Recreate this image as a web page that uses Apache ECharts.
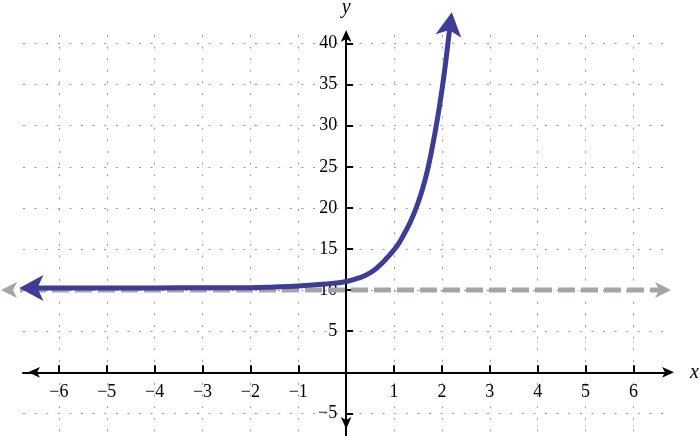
<!DOCTYPE html>
<html>
<head>
<meta charset="utf-8">
<script src="https://cdn.jsdelivr.net/npm/echarts@6/dist/echarts.min.js"></script>
<style>
html,body{margin:0;padding:0;background:#fff;}
#chart{width:700px;height:436px;}
</style>
</head>
<body>
<div id="chart"></div>
<script>
// ---- data ----
var curveX = [-6.72, -5, -4, -3, -2, -1.5, -1, -0.5, -0.25, 0, 0.25, 0.5, 0.7, 0.85, 1.0, 1.1, 1.2, 1.35, 1.5, 1.6, 1.7, 1.8, 1.9, 2.0, 2.07, 2.13, 2.192];
var curveY = [10.25, 10.25, 10.27, 10.28, 10.3, 10.38, 10.5, 10.7, 10.85, 11.05, 11.45, 12.1, 13.0, 13.9, 14.9, 15.7, 16.7, 18.4, 20.6, 22.4, 24.6, 27.4, 30.6, 34.3, 37.3, 40.2, 43.2];
var asymptoteX = [-7.105, 6.683];
var asymptoteY = [10, 10];
var xTickValues = [-6, -5, -4, -3, -2, -1, 0, 1, 2, 3, 4, 5, 6];
var xLabelValues = [-6, -5, -4, -3, -2, -1, 1, 2, 3, 4, 5, 6];
var xLabelTexts = ['\u22126', '\u22125', '\u22124', '\u22123', '\u22122', '\u22121', '1', '2', '3', '4', '5', '6'];
var yTickValues = [-5, 0, 5, 10, 15, 20, 25, 30, 35, 40];
var yLabelValues = [-5, 5, 10, 15, 20, 25, 30, 35, 40];
var yLabelTexts = ['\u22125', '5', '10', '15', '20', '25', '30', '35', '40'];

var X_MIN = -6.75, X_MAX = 6.765, Y_MIN = -7.75, Y_MAX = 41.04;

var chart = echarts.init(document.getElementById('chart'), null, {renderer: 'canvas'});

function labelFrom(values, texts) {
  return function (v) {
    for (var i = 0; i < values.length; i++) {
      if (Math.abs(values[i] - v) < 1e-9) return '{t|' + texts[i] + '}';
    }
    return '';
  };
}

function pointsWithEndArrows(xs, ys, startRot, endRot, startOff, endOff) {
  var out = [];
  for (var i = 0; i < xs.length; i++) {
    var item = {value: [xs[i], ys[i]]};
    if (i === 0) { item.symbol = 'arrow'; item.symbolRotate = startRot; item.symbolOffset = startOff; }
    else if (i === xs.length - 1) { item.symbol = 'arrow'; item.symbolRotate = endRot; item.symbolOffset = endOff; }
    else { item.symbol = 'none'; }
    out.push(item);
  }
  return out;
}

var gridLine = {show: true, lineStyle: {color: '#999', width: 1, type: [2, 9.6]}};
var fontFam = '"Liberation Serif", "Times New Roman", Times, serif';
var labelRich = {t: {fontFamily: fontFam, fontSize: 18, color: '#000'}};

var option = {
  animation: false,
  backgroundColor: '#fff',
  textStyle: {fontFamily: fontFam},
  grid: {left: 23, right: 30, top: 35, bottom: 0, containLabel: false, outerBoundsMode: 'none'},
  xAxis: {
    type: 'value', min: X_MIN, max: X_MAX, position: 'bottom', offset: 0,
    name: 'x', nameLocation: 'end', nameGap: 20,
    nameTextStyle: {fontFamily: fontFam, fontStyle: 'italic', fontSize: 20, color: '#000', verticalAlign: 'middle'},
    axisLine: {show: true, onZero: false, symbol: ['arrow', 'arrow'], symbolSize: [8, 12], symbolOffset: [5, 4],
      lineStyle: {color: '#000', width: 2}},
    axisTick: {show: true, inside: true, length: 7, lineStyle: {color: '#000', width: 2}, customValues: xTickValues},
    axisLabel: {show: true, customValues: xLabelValues, formatter: labelFrom(xLabelValues, xLabelTexts),
      margin: 11, fontFamily: fontFam, fontSize: 18, color: '#000', rich: labelRich},
    splitLine: gridLine
  },
  yAxis: {
    type: 'value', min: Y_MIN, max: Y_MAX, position: 'left', offset: 0,
    name: 'y', nameLocation: 'end', nameGap: 17,
    nameTextStyle: {fontFamily: fontFam, fontStyle: 'italic', fontSize: 20, color: '#000'},
    axisLine: {show: true, onZero: false, symbol: ['arrow', 'arrow'], symbolSize: [8, 12], symbolOffset: [7, 5],
      lineStyle: {color: '#000', width: 2}},
    axisTick: {show: true, inside: true, length: 7, lineStyle: {color: '#000', width: 2}, customValues: yTickValues},
    axisLabel: {show: true, customValues: yLabelValues, formatter: labelFrom(yLabelValues, yLabelTexts),
      margin: 9, fontFamily: fontFam, fontSize: 18, color: '#000', rich: labelRich},
    splitLine: gridLine
  },
  series: [
    {
      type: 'line', silent: true, clip: false,
      symbol: 'arrow', symbolSize: [12, 16], showSymbol: true, showAllSymbol: true,
      data: pointsWithEndArrows(asymptoteX, asymptoteY, 90, -90, [-5, 0], [5, 0]),
      lineStyle: {color: '#a3a5a8', width: 5, type: [17, 6]},
      itemStyle: {color: '#a3a5a8', borderWidth: 0},
      z: 3
    },
    {
      type: 'line', silent: true, clip: false,
      symbol: 'arrow', symbolSize: [19.5, 24], showSymbol: true, showAllSymbol: true,
      smooth: true,
      data: pointsWithEndArrows(curveX, curveY, 90, -8, [-5, 0], [0.7, -5]),
      lineStyle: {color: '#3d3c98', width: 5, join: 'round'},
      itemStyle: {color: '#3d3c98', borderWidth: 0},
      z: 4
    }
  ]
};
chart.setOption(option);

// move the axes so they cross at the origin (labels follow them)
var origin = chart.convertToPixel({gridIndex: 0}, [0, 0]);
var corner = chart.convertToPixel({gridIndex: 0}, [X_MIN, Y_MIN]);
chart.setOption({
  xAxis: {offset: -(corner[1] - origin[1])},
  yAxis: {offset: -(origin[0] - corner[0])}
});
</script>
</body>
</html>
